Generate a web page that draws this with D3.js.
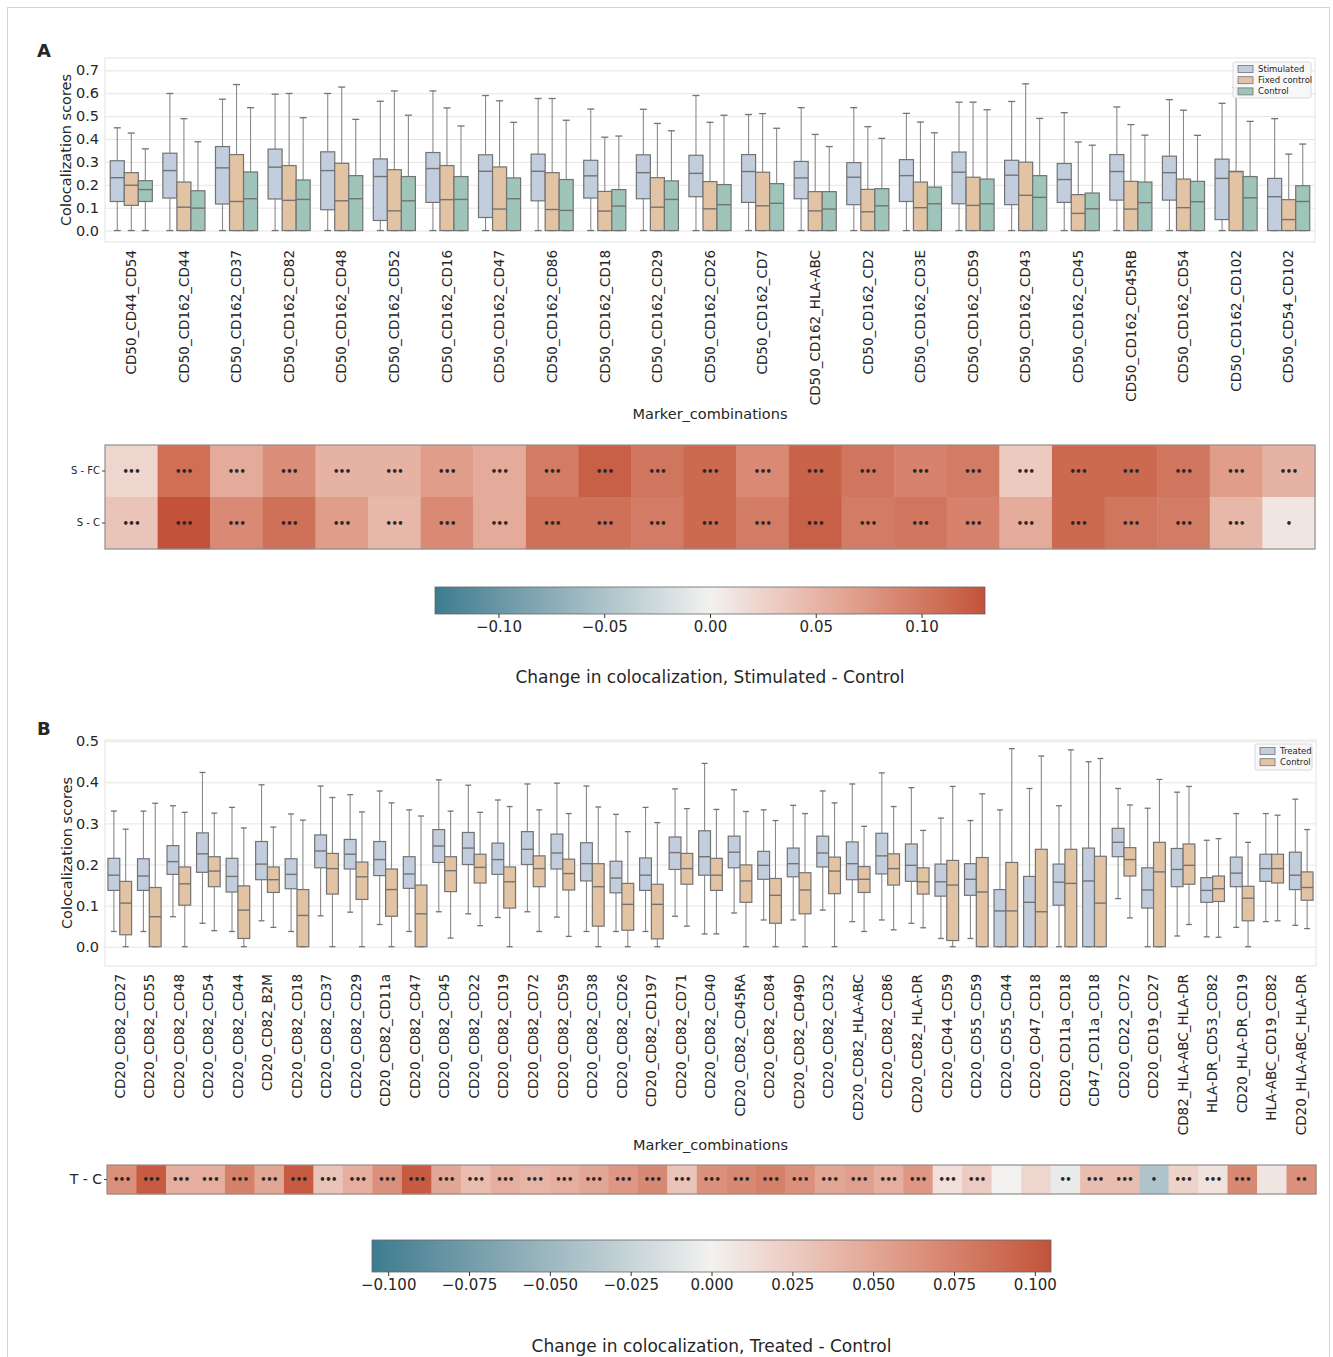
<!DOCTYPE html>
<html>
<head>
<meta charset="utf-8">
<script src="https://cdn.jsdelivr.net/npm/d3@7"></script>
<style>
  body { margin: 0; background: #fff; }
  text { font-family: "DejaVu Sans", sans-serif; fill: #262626; }
</style>
</head>
<body>
<div id="fig"></div>
<script>
// ---------- data: panel A ----------
var markersA = ["CD50_CD44_CD54","CD50_CD162_CD44","CD50_CD162_CD37","CD50_CD162_CD82","CD50_CD162_CD48",
  "CD50_CD162_CD52","CD50_CD162_CD16","CD50_CD162_CD47","CD50_CD162_CD86","CD50_CD162_CD18","CD50_CD162_CD29",
  "CD50_CD162_CD26","CD50_CD162_CD7","CD50_CD162_HLA-ABC","CD50_CD162_CD2","CD50_CD162_CD3E","CD50_CD162_CD59",
  "CD50_CD162_CD43","CD50_CD162_CD45","CD50_CD162_CD45RB","CD50_CD162_CD54","CD50_CD162_CD102","CD50_CD54_CD102"];
var seriesA = ["Stimulated", "Fixed control", "Control"];
// box stats: [low whisker, q1, median, q3, high whisker]
var stimA = [[0,0.127,0.231,0.305,0.449],[0,0.142,0.262,0.338,0.599],[0,0.116,0.274,0.367,0.574],[0,0.138,0.277,0.356,0.596],
  [0,0.091,0.262,0.344,0.599],[0,0.044,0.236,0.313,0.565],[0,0.123,0.271,0.341,0.610],[0,0.057,0.259,0.331,0.590],
  [0,0.130,0.259,0.334,0.577],[0,0.142,0.239,0.307,0.531],[0,0.139,0.253,0.331,0.530],[0,0.148,0.250,0.329,0.590],
  [0,0.123,0.258,0.332,0.507],[0,0.139,0.230,0.302,0.537],[0,0.113,0.233,0.297,0.537],[0,0.127,0.240,0.310,0.512],
  [0,0.117,0.255,0.343,0.561],[0,0.113,0.242,0.307,0.564],[0,0.123,0.223,0.293,0.515],[0,0.133,0.258,0.332,0.540],
  [0,0.133,0.253,0.325,0.572],[0,0.048,0.228,0.312,0.556],[0,0,0.148,0.228,0.489]];
var fixedA = [[0,0.110,0.198,0.253,0.426],[0,0,0.102,0.212,0.489],[0,0,0.127,0.332,0.638],[0,0,0.132,0.284,0.599],
  [0,0,0.130,0.294,0.627],[0,0,0.086,0.266,0.610],[0,0,0.135,0.284,0.536],[0,0,0.094,0.278,0.567],
  [0,0,0.092,0.253,0.577],[0,0,0.085,0.171,0.408],[0,0,0.102,0.231,0.468],[0,0,0.095,0.214,0.473],
  [0,0,0.108,0.255,0.511],[0,0,0.086,0.170,0.420],[0,0,0.082,0.180,0.454],[0,0,0.100,0.212,0.474],
  [0,0,0.110,0.233,0.561],[0,0,0.154,0.299,0.641],[0,0,0.075,0.157,0.387],[0,0,0.094,0.215,0.463],
  [0,0,0.100,0.225,0.526],[0,0,0.258,0.258,0.625],[0,0,0.048,0.135,0.334]];
var controlA = [[0,0.127,0.179,0.218,0.357],[0,0,0.098,0.174,0.388],[0,0,0.139,0.256,0.537],[0,0,0.136,0.221,0.493],
  [0,0,0.139,0.240,0.486],[0,0,0.130,0.236,0.504],[0,0,0.136,0.236,0.457],[0,0,0.139,0.230,0.473],
  [0,0,0.088,0.223,0.482],[0,0,0.107,0.179,0.413],[0,0,0.136,0.217,0.436],[0,0,0.113,0.201,0.504],
  [0,0,0.119,0.205,0.447],[0,0,0.094,0.170,0.367],[0,0,0.108,0.183,0.403],[0,0,0.117,0.190,0.427],
  [0,0,0.117,0.225,0.528],[0,0,0.145,0.240,0.490],[0,0,0.095,0.164,0.373],[0,0,0.122,0.212,0.417],
  [0,0,0.126,0.215,0.416],[0,0,0.143,0.236,0.477],[0,0,0.127,0.196,0.378]];
var yTicksA = [0, 0.1, 0.2, 0.3, 0.4, 0.5, 0.6, 0.7];
var rowsA = ["S - FC", "S - C"];
var heatA_SFC = [0.022,0.108,0.058,0.082,0.052,0.052,0.070,0.058,0.097,0.120,0.102,0.112,0.086,0.117,0.102,0.092,0.097,0.032,0.112,0.112,0.102,0.070,0.052];
var heatA_SC  = [0.037,0.135,0.086,0.107,0.070,0.047,0.086,0.058,0.107,0.107,0.097,0.112,0.097,0.120,0.097,0.102,0.092,0.058,0.112,0.102,0.097,0.047,0.010];
var starsA_SFC = ["•••","•••","•••","•••","•••","•••","•••","•••","•••","•••","•••","•••","•••","•••","•••","•••","•••","•••","•••","•••","•••","•••","•••"];
var starsA_SC  = ["•••","•••","•••","•••","•••","•••","•••","•••","•••","•••","•••","•••","•••","•••","•••","•••","•••","•••","•••","•••","•••","•••","•"];
var cbTicksA = [-0.10, -0.05, 0, 0.05, 0.10];

// ---------- data: panel B ----------
var markersB = ["CD20_CD82_CD27","CD20_CD82_CD55","CD20_CD82_CD48","CD20_CD82_CD54","CD20_CD82_CD44","CD20_CD82_B2M",
  "CD20_CD82_CD18","CD20_CD82_CD37","CD20_CD82_CD29","CD20_CD82_CD11a","CD20_CD82_CD47","CD20_CD82_CD45","CD20_CD82_CD22",
  "CD20_CD82_CD19","CD20_CD82_CD72","CD20_CD82_CD59","CD20_CD82_CD38","CD20_CD82_CD26","CD20_CD82_CD197","CD20_CD82_CD71",
  "CD20_CD82_CD40","CD20_CD82_CD45RA","CD20_CD82_CD84","CD20_CD82_CD49D","CD20_CD82_CD32","CD20_CD82_HLA-ABC",
  "CD20_CD82_CD86","CD20_CD82_HLA-DR","CD20_CD44_CD59","CD20_CD55_CD59","CD20_CD55_CD44","CD20_CD47_CD18",
  "CD20_CD11a_CD18","CD47_CD11a_CD18","CD20_CD22_CD72","CD20_CD19_CD27","CD82_HLA-ABC_HLA-DR","HLA-DR_CD53_CD82",
  "CD20_HLA-DR_CD19","HLA-ABC_CD19_CD82","CD20_HLA-ABC_HLA-DR"];
var seriesB = ["Treated", "Control"];
var treatedB = [[0.037,0.137,0.174,0.215,0.330],[0.037,0.137,0.172,0.214,0.330],[0.073,0.176,0.207,0.246,0.343],
  [0.057,0.181,0.226,0.277,0.424],[0.037,0.133,0.171,0.215,0.339],[0.063,0.163,0.201,0.256,0.394],[0.037,0.141,0.176,0.214,0.323],
  [0.075,0.192,0.233,0.272,0.391],[0.084,0.189,0.225,0.261,0.370],[0.054,0.173,0.212,0.256,0.379],[0.037,0.142,0.177,0.219,0.333],
  [0.085,0.205,0.245,0.285,0.406],[0.080,0.200,0.240,0.278,0.393],[0.071,0.176,0.212,0.252,0.357],[0.085,0.200,0.237,0.280,0.396],
  [0.072,0.189,0.228,0.274,0.398],[0.037,0.160,0.202,0.253,0.391],[0.037,0.131,0.167,0.208,0.322],[0.037,0.137,0.174,0.216,0.339],
  [0.074,0.188,0.229,0.267,0.384],[0.031,0.174,0.219,0.282,0.446],[0.082,0.192,0.230,0.269,0.382],[0.065,0.164,0.198,0.232,0.333],
  [0.065,0.170,0.202,0.240,0.344],[0.089,0.194,0.228,0.269,0.379],[0.061,0.163,0.202,0.255,0.396],[0.065,0.177,0.221,0.276,0.423],
  [0.057,0.159,0.198,0.250,0.387],[0.020,0.123,0.158,0.201,0.313],[0.020,0.125,0.164,0.202,0.307],[0,0,0.087,0.139,0.333],
  [0,0,0.108,0.171,0.385],[0,0.101,0.157,0.201,0.343],[0,0,0.160,0.240,0.450],[0.117,0.219,0.254,0.288,0.385],
  [0,0.094,0.138,0.192,0.337],[0.026,0.146,0.188,0.239,0.376],[0.024,0.108,0.137,0.168,0.259],[0.047,0.146,0.179,0.218,0.324],
  [0.061,0.159,0.190,0.225,0.324],[0.052,0.139,0.174,0.230,0.359]];
var controlB = [[0,0.029,0.106,0.159,0.286],[0,0,0.073,0.144,0.349],[0,0.101,0.153,0.194,0.327],[0.039,0.146,0.184,0.219,0.325],
  [0,0.020,0.089,0.148,0.289],[0.047,0.132,0.163,0.194,0.291],[0,0,0.076,0.139,0.308],[0,0.128,0.190,0.227,0.363],
  [0,0.115,0.170,0.206,0.328],[0,0.074,0.139,0.189,0.350],[0,0,0.080,0.150,0.318],[0.021,0.134,0.185,0.219,0.330],
  [0.051,0.155,0.193,0.225,0.327],[0,0.094,0.158,0.194,0.341],[0.037,0.146,0.190,0.221,0.333],[0.025,0.138,0.178,0.213,0.324],
  [0,0.050,0.146,0.202,0.340],[0,0.040,0.103,0.154,0.280],[0,0.019,0.103,0.152,0.302],[0.050,0.152,0.190,0.227,0.336],
  [0.031,0.137,0.174,0.215,0.334],[0,0.108,0.160,0.199,0.329],[0,0.057,0.125,0.166,0.307],[0,0.080,0.138,0.180,0.324],
  [0,0.129,0.184,0.218,0.350],[0.037,0.132,0.164,0.195,0.293],[0.041,0.150,0.190,0.226,0.341],[0.046,0.128,0.158,0.192,0.283],
  [0,0.015,0.150,0.210,0.390],[0,0,0.133,0.217,0.372],[0,0,0.087,0.205,0.482],[0,0,0.085,0.237,0.464],
  [0,0,0.154,0.237,0.479],[0,0,0.106,0.220,0.458],[0.070,0.172,0.212,0.241,0.345],[0,0,0.182,0.254,0.407],
  [0.054,0.152,0.198,0.250,0.390],[0.023,0.110,0.141,0.172,0.263],[0,0.063,0.118,0.147,0.254],[0.063,0.155,0.190,0.225,0.320],
  [0.044,0.113,0.144,0.182,0.285]];
var yTicksB = [0, 0.1, 0.2, 0.3, 0.4, 0.5];
var rowsB = ["T - C"];
var heatB_TC = [0.065,0.100,0.045,0.045,0.075,0.050,0.100,0.030,0.045,0.065,0.100,0.050,0.035,0.045,0.040,0.045,0.050,0.060,0.070,0.030,
  0.065,0.070,0.075,0.065,0.050,0.055,0.045,0.060,0.012,0.025,0.000,0.018,-0.005,0.035,0.035,-0.040,0.020,0.010,0.070,0.008,0.065];
var starsB_TC = ["•••","•••","•••","•••","•••","•••","•••","•••","•••","•••","•••","•••","•••","•••","•••","•••","•••","•••","•••","•••",
  "•••","•••","•••","•••","•••","•••","•••","•••","•••","•••","","","••","•••","•••","•","•••","•••","•••","","••"];
var cbTicksB = [-0.100, -0.075, -0.050, -0.025, 0, 0.025, 0.050, 0.075, 0.100];

// ---------- colours ----------
var boxColors = {"Stimulated": "#c2cedd", "Fixed control": "#e2c3a3", "Control": "#9fc4b9", "Treated": "#c2cedd"};
var controlTan = "#e2c3a3";
var lineCol = "#737373";

var svg = d3.select("#fig").append("svg").attr("width", 1333).attr("height", 1357);
svg.append("rect").attr("x", 7.5).attr("y", 7.5).attr("width", 1322).attr("height", 1362)
  .attr("fill", "none").attr("stroke", "#d4d4d4");

function boxPanel(cfg) {
  var g = svg.append("g");
  var x = d3.scaleBand().domain(cfg.markers).range([cfg.left, cfg.right]);
  var xs = d3.scaleBand().domain(cfg.series.map(function(s) { return s.name; }))
    .range([0.1 * x.bandwidth(), 0.9 * x.bandwidth()]);
  var y = d3.scaleLinear().domain(cfg.yDomain).range([cfg.bottom, cfg.top]);

  g.append("rect").attr("x", cfg.left).attr("y", cfg.top)
    .attr("width", cfg.right - cfg.left).attr("height", cfg.bottom - cfg.top)
    .attr("fill", "none").attr("stroke", "#e3e3e3");

  // y axis with gridlines
  var ya = g.append("g").attr("transform", "translate(" + cfg.left + ",0)")
    .call(d3.axisLeft(y).tickValues(cfg.yTicks).tickFormat(d3.format(".1f"))
      .tickSize(-(cfg.right - cfg.left)).tickPadding(6));
  ya.select(".domain").remove();
  ya.selectAll("line").attr("stroke", "#e6e6e6");
  ya.selectAll("text").attr("font-size", 14.5).attr("fill", "#333");

  // x axis, rotated labels
  var xa = g.append("g").attr("transform", "translate(0," + cfg.bottom + ")")
    .call(d3.axisBottom(x).tickSize(0));
  xa.select(".domain").remove();
  xa.selectAll("text")
    .attr("transform", "rotate(-90)")
    .attr("text-anchor", "end")
    .attr("x", -8).attr("y", 0).attr("dy", "0.35em")
    .attr("font-size", 13.5).attr("fill", "#333");

  g.append("text").attr("x", (cfg.left + cfg.right) / 2).attr("y", cfg.xTitleY)
    .attr("text-anchor", "middle").attr("font-size", 14.5).text("Marker_combinations");
  g.append("text").attr("transform", "translate(" + cfg.yTitleX + "," + ((cfg.top + cfg.bottom) / 2) + ") rotate(-90)")
    .attr("text-anchor", "middle").attr("font-size", 14.5).text("Colocalization scores");

  cfg.series.forEach(function(s) {
    var w = xs.bandwidth();
    var bx = g.append("g").selectAll("g").data(s.data).enter().append("g")
      .attr("transform", function(d, i) { return "translate(" + (x(cfg.markers[i]) + xs(s.name)) + ",0)"; });
    // whiskers
    bx.append("line").attr("x1", w / 2).attr("x2", w / 2)
      .attr("y1", function(d) { return y(d[3]); }).attr("y2", function(d) { return y(d[4]); })
      .attr("stroke", "#8a8a8a").attr("stroke-width", 1.1);
    bx.append("line").attr("x1", w / 2).attr("x2", w / 2)
      .attr("y1", function(d) { return y(d[1]); }).attr("y2", function(d) { return y(d[0]); })
      .attr("stroke", "#8a8a8a").attr("stroke-width", 1.1);
    bx.append("line").attr("x1", w / 4).attr("x2", 3 * w / 4)
      .attr("y1", function(d) { return y(d[4]); }).attr("y2", function(d) { return y(d[4]); })
      .attr("stroke", lineCol).attr("stroke-width", 1.3);
    bx.append("line").attr("x1", w / 4).attr("x2", 3 * w / 4)
      .attr("y1", function(d) { return y(d[0]); }).attr("y2", function(d) { return y(d[0]); })
      .attr("stroke", lineCol).attr("stroke-width", 1.3);
    // box
    bx.append("rect").attr("x", 0).attr("width", w)
      .attr("y", function(d) { return y(d[3]); })
      .attr("height", function(d) { return y(d[1]) - y(d[3]); })
      .attr("fill", s.color).attr("stroke", lineCol).attr("stroke-width", 1.2);
    // median
    bx.append("line").attr("x1", 0).attr("x2", w)
      .attr("y1", function(d) { return y(d[2]); }).attr("y2", function(d) { return y(d[2]); })
      .attr("stroke", lineCol).attr("stroke-width", 1.4);
  });

  // legend
  var L = cfg.legend;
  var lg = g.append("g");
  lg.append("rect").attr("x", L.x).attr("y", L.y).attr("width", L.w).attr("height", L.h).attr("rx", 2)
    .attr("fill", "#f7f7f9").attr("fill-opacity", 0.9).attr("stroke", "#d8d8e0");
  cfg.series.forEach(function(s, i) {
    var yy = L.y + 7 + i * 11.2;
    lg.append("rect").attr("x", L.x + 5).attr("y", yy - 3.5).attr("width", 15).attr("height", 7)
      .attr("fill", s.color).attr("stroke", lineCol).attr("stroke-width", 0.8);
    lg.append("text").attr("x", L.x + 25).attr("y", yy).attr("dy", "0.35em")
      .attr("font-size", 8.5).attr("fill", "#333").text(s.name);
  });
}

var divColor = function(vmax) {
  return d3.scaleLinear().domain([-vmax, 0, vmax]).range(["#3b7c8f", "#f2f1f0", "#c2533a"])
    .interpolate(d3.interpolateLab).clamp(true);
};

function heatmap(cfg) {
  var g = svg.append("g");
  var x = d3.scaleBand().domain(cfg.markers).range([cfg.left, cfg.right]);
  var y = d3.scaleBand().domain(cfg.rows).range([cfg.top, cfg.bottom]);
  cfg.rows.forEach(function(r, ri) {
    g.append("g").selectAll("rect").data(cfg.values[ri]).enter().append("rect")
      .attr("x", function(d, i) { return x(cfg.markers[i]); })
      .attr("y", y(r)).attr("width", x.bandwidth() + 0.5).attr("height", y.bandwidth() + 0.3)
      .attr("fill", function(d) { return cfg.color(d); });
    g.append("g").selectAll("text").data(cfg.stars[ri]).enter().append("text")
      .attr("x", function(d, i) { return x(cfg.markers[i]) + x.bandwidth() / 2; })
      .attr("y", y(r) + y.bandwidth() / 2).attr("dy", "0.35em")
      .attr("text-anchor", "middle").attr("font-size", cfg.starSize).attr("font-weight", "bold")
      .attr("letter-spacing", "-0.5px").attr("fill", "#111")
      .text(function(d) { return d; });
  });
  g.append("rect").attr("x", cfg.left).attr("y", cfg.top)
    .attr("width", cfg.right - cfg.left).attr("height", cfg.bottom - cfg.top)
    .attr("fill", "none").attr("stroke", "#8f8f8f").attr("stroke-width", 1.2);
  var ya = g.append("g").attr("transform", "translate(" + cfg.left + ",0)")
    .call(d3.axisLeft(y).tickSize(3).tickPadding(2));
  ya.select(".domain").remove();
  ya.selectAll("line").attr("stroke", "#444");
  ya.selectAll("text").attr("font-size", cfg.labelSize).attr("fill", "#222");
}

function colorbar(cfg) {
  var g = svg.append("g");
  var id = "grad" + cfg.id;
  var grad = svg.append("defs").append("linearGradient").attr("id", id);
  d3.range(0, 1.0001, 0.05).forEach(function(t) {
    grad.append("stop").attr("offset", t).attr("stop-color", cfg.color(-cfg.vmax + 2 * cfg.vmax * t));
  });
  var x = d3.scaleLinear().domain([-cfg.vmax, cfg.vmax]).range([cfg.left, cfg.right]);
  g.append("rect").attr("x", cfg.left).attr("y", cfg.top).attr("width", cfg.right - cfg.left)
    .attr("height", cfg.bottom - cfg.top).attr("fill", "url(#" + id + ")")
    .attr("stroke", "#666").attr("stroke-width", 0.8);
  var xa = g.append("g").attr("transform", "translate(0," + cfg.bottom + ")")
    .call(d3.axisBottom(x).tickValues(cfg.ticks).tickFormat(d3.format(cfg.fmt)).tickSize(4).tickPadding(3));
  xa.select(".domain").remove();
  xa.selectAll("line").attr("stroke", "#333");
  xa.selectAll("text").attr("font-size", 15).attr("fill", "#222");
  g.append("text").attr("x", (cfg.left + cfg.right) / 2).attr("y", cfg.titleY)
    .attr("text-anchor", "middle").attr("font-size", 17).attr("fill", "#222").text(cfg.title);
}

// ---------- panel A ----------
svg.append("text").attr("x", 37).attr("y", 57).attr("font-size", 18).attr("font-weight", "bold").attr("fill", "#111").text("A");
boxPanel({
  markers: markersA,
  series: [{name: seriesA[0], color: boxColors["Stimulated"], data: stimA},
           {name: seriesA[1], color: boxColors["Fixed control"], data: fixedA},
           {name: seriesA[2], color: boxColors["Control"], data: controlA}],
  left: 105, right: 1315, top: 58, bottom: 242, yDomain: [-0.05, 0.754], yTicks: yTicksA,
  xTitleY: 419, yTitleX: 71, legend: {x: 1233, y: 62, w: 78, h: 36}
});
var colA = divColor(0.13);
heatmap({markers: markersA, rows: rowsA, values: [heatA_SFC, heatA_SC], stars: [starsA_SFC, starsA_SC],
  left: 105, right: 1315, top: 445, bottom: 549, color: colA, starSize: 10, labelSize: 10});
colorbar({id: "A", color: colA, vmax: 0.13, left: 435, right: 985, top: 587, bottom: 614,
  ticks: cbTicksA, fmt: ".2f", titleY: 683, title: "Change in colocalization, Stimulated - Control"});

// ---------- panel B ----------
svg.append("text").attr("x", 37).attr("y", 735).attr("font-size", 18).attr("font-weight", "bold").attr("fill", "#111").text("B");
boxPanel({
  markers: markersB,
  series: [{name: seriesB[0], color: boxColors["Treated"], data: treatedB},
           {name: seriesB[1], color: controlTan, data: controlB}],
  left: 105, right: 1316, top: 740, bottom: 966, yDomain: [-0.047, 0.503], yTicks: yTicksB,
  xTitleY: 1150, yTitleX: 72, legend: {x: 1255, y: 744, w: 57, h: 26}
});
var colB = divColor(0.105);
heatmap({markers: markersB, rows: rowsB, values: [heatB_TC], stars: [starsB_TC],
  left: 107, right: 1316, top: 1165, bottom: 1194, color: colB, starSize: 10, labelSize: 14});
colorbar({id: "B", color: colB, vmax: 0.105, left: 372, right: 1051, top: 1240, bottom: 1272,
  ticks: cbTicksB, fmt: ".3f", titleY: 1352, title: "Change in colocalization, Treated - Control"});
</script>
</body>
</html>
